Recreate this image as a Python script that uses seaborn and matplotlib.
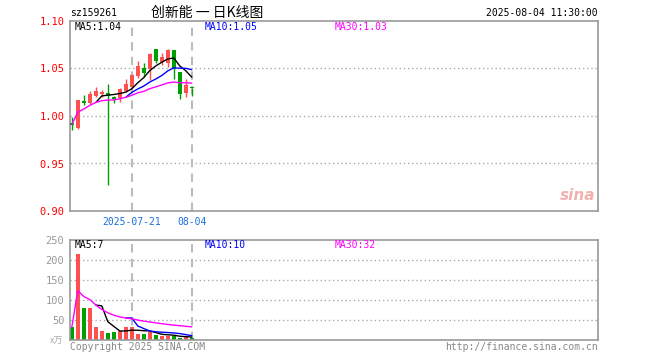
import numpy as np
import pandas as pd
import matplotlib
matplotlib.use('Agg')
import matplotlib.pyplot as plt
import seaborn as sns

# daily K data for sz159261
dates = ['07-07', '07-08', '07-09', '07-10', '07-11', '07-14', '07-15', '07-16', '07-17', '07-18',
         '07-21', '07-22', '07-23', '07-24', '07-25', '07-28', '07-29', '07-30', '07-31', '08-01', '08-04']
opens = [0.992, 0.987, 1.016, 1.014, 1.021, 1.023, 1.024, 1.020, 1.0186, 1.0267,
         1.031, 1.042, 1.051, 1.049, 1.070, 1.057, 1.056, 1.0695, 1.0466, 1.0245, 1.0292]
closes = [0.991, 1.017, 1.014, 1.023, 1.026, 1.0256, 1.021, 1.0176, 1.028, 1.0337,
          1.043, 1.0526, 1.045, 1.065, 1.058, 1.0624, 1.070, 1.050, 1.023, 1.0326, 1.029]
highs = [0.999, 1.017, 1.022, 1.026, 1.031, 1.0275, 1.0337, 1.021, 1.029, 1.0386,
         1.044, 1.058, 1.056, 1.0666, 1.070, 1.066, 1.070, 1.0695, 1.0466, 1.0386, 1.0292]
lows = [0.985, 0.986, 1.0116, 1.013, 1.0195, 1.020, 0.927, 1.0137, 1.015, 1.025,
        1.030, 1.040, 1.041, 1.038, 1.056, 1.054, 1.052, 1.0386, 1.0176, 1.0197, 1.021]
vols = [32, 215, 79, 79, 32, 22, 17, 20, 22, 32, 32, 16, 14, 19, 12, 10, 10, 9, 6, 7, 5]  # 万

price_ticks = [0.90, 0.95, 1.00, 1.05, 1.10]
vol_ticks = [50, 100, 150, 200, 250]
date_ticks = [10, 20]
date_labels = ['2025-07-21', '08-04']

RED = '#ff5050'
GREEN = '#00a000'
GRID = '#aaaaaa'
MONO = 'DejaVu Sans Mono'

df = pd.DataFrame({'date': dates, 'open': opens, 'close': closes,
                   'high': highs, 'low': lows, 'vol': vols})
df['i'] = range(len(df))
df['up'] = df['close'] >= df['open']
df['ma5'] = df['close'].rolling(5).mean()
df['ma10'] = df['close'].rolling(10).mean()
df['ma30'] = df['close'].rolling(30, min_periods=1).mean()
df['vma5'] = df['vol'].rolling(5).mean()
df['vma10'] = df['vol'].rolling(10).mean()
df['vma30'] = df['vol'].rolling(30, min_periods=1).mean()

sns.set_theme(style='white')
plt.rcParams['font.family'] = [MONO, 'Noto Sans CJK SC']

W, H = 660, 360
def px(x, y):
    return x / W, 1 - y / H

fig = plt.figure(figsize=(6.6, 3.6), dpi=100)
ax = fig.add_axes([70 / W, 1 - 211 / H, 528 / W, 190 / H])
ax2 = fig.add_axes([70 / W, 1 - 340 / H, 528 / W, 100 / H])

colors = np.where(df['up'], RED, GREEN)

# price panel
for y in [0.95, 1.00, 1.05]:
    ax.axhline(y, color=GRID, lw=1, ls=(0, (1, 2)), zorder=0)
for x in date_ticks:
    ax.axvline(x, color='#bbbbbb', lw=1.5, ls=(0, (4, 3)), zorder=0)
ax.vlines(df['i'], df['low'], df['high'], colors=colors, lw=1, zorder=2)
body = (df['close'] - df['open']).abs().clip(lower=0.0012)
ax.bar(df['i'], body, bottom=np.minimum(df['open'], df['close']), width=0.72,
       color=colors, lw=0, zorder=3)
sns.lineplot(data=df, x='i', y='ma5', color='black', lw=1, ax=ax, zorder=4)
sns.lineplot(data=df, x='i', y='ma10', color='#0000ff', lw=1, ax=ax, zorder=4)
sns.lineplot(data=df, x='i', y='ma30', color='#ff00ff', lw=1, ax=ax, zorder=4)
ax.set_xlim(-0.3, 87.7)
ax.set_ylim(0.90, 1.10)
ax.set_yticks(price_ticks)
ax.set_yticklabels([f'{v:.2f}' for v in price_ticks], color='#ff0000', fontsize=7.5)
ax.set_xticks(date_ticks)
ax.set_xticklabels(date_labels, color='#1a6fe0', fontsize=7)
ax.tick_params(length=0, pad=4)
ax.set_xlabel('')
ax.set_ylabel('')

ax.text(px(75, 27)[0], px(75, 27)[1], 'MA5:1.04', transform=fig.transFigure,
        color='black', fontsize=7, va='center')
ax.text(px(205, 27)[0], px(205, 27)[1], 'MA10:1.05', transform=fig.transFigure,
        color='#0000ff', fontsize=7, va='center')
ax.text(px(335, 27)[0], px(335, 27)[1], 'MA30:1.03', transform=fig.transFigure,
        color='#ff00ff', fontsize=7, va='center')
ax.text(0.995, 0.04, 'sina', transform=ax.transAxes, ha='right', va='bottom',
        fontsize=11, fontstyle='italic', fontweight='bold', color='#f3b0b0',
        family='DejaVu Sans')

# volume panel
for y in [50, 100, 150, 200]:
    ax2.axhline(y, color=GRID, lw=1, ls=(0, (1, 2)), zorder=0)
for x in date_ticks:
    ax2.axvline(x, color='#bbbbbb', lw=1.5, ls=(0, (4, 3)), zorder=0)
sns.barplot(data=df, x='i', y='vol', hue='up', palette={True: RED, False: GREEN},
            native_scale=True, width=0.72, saturation=1, errorbar=None, legend=False,
            linewidth=0, ax=ax2, zorder=2)
sns.lineplot(data=df, x='i', y='vma5', color='black', lw=1, ax=ax2, zorder=4)
sns.lineplot(data=df, x='i', y='vma10', color='#0000ff', lw=1, ax=ax2, zorder=4)
sns.lineplot(data=df, x='i', y='vma30', color='#ff00ff', lw=1, ax=ax2, zorder=4)
ax2.set_xlim(-0.3, 87.7)
ax2.set_ylim(0, 250)
ax2.set_yticks(vol_ticks)
ax2.set_yticklabels([str(v) for v in vol_ticks], color='#999999', fontsize=7.5)
ax2.set_xticks([])
ax2.tick_params(length=0, pad=4)
ax2.set_xlabel('')
ax2.set_ylabel('')

ax2.text(px(75, 245)[0], px(75, 245)[1], 'MA5:7', transform=fig.transFigure,
         color='black', fontsize=7, va='center')
ax2.text(px(205, 245)[0], px(205, 245)[1], 'MA10:10', transform=fig.transFigure,
         color='#0000ff', fontsize=7, va='center')
ax2.text(px(335, 245)[0], px(335, 245)[1], 'MA30:32', transform=fig.transFigure,
         color='#ff00ff', fontsize=7, va='center')

for a in (ax, ax2):
    for s in a.spines.values():
        s.set_color('#999999')
        s.set_linewidth(1.2)

# header / footer
fig.text(*px(70, 13), 'sz159261', fontsize=7, va='center', color='black')
fig.text(*px(151, 13), '创新能 一 日K线图', fontsize=10, va='center', color='black',
         family=['Noto Sans CJK SC', 'DejaVu Sans'])
fig.text(*px(598, 13), '2025-08-04 11:30:00', fontsize=7, va='center', ha='right', color='black')
fig.text(*px(70, 347), 'Copyright 2025 SINA.COM', fontsize=7, va='center', color='#888888')
fig.text(*px(598, 347), 'http://finance.sina.com.cn', fontsize=7, va='center', ha='right',
         color='#888888')
fig.text(*px(57, 341), 'x万', fontsize=6.5, va='center', ha='center', color='#aaaaaa',
         fontstyle='italic', family=['Noto Sans CJK SC', 'DejaVu Sans'])

fig.savefig('out.png', dpi=100)
